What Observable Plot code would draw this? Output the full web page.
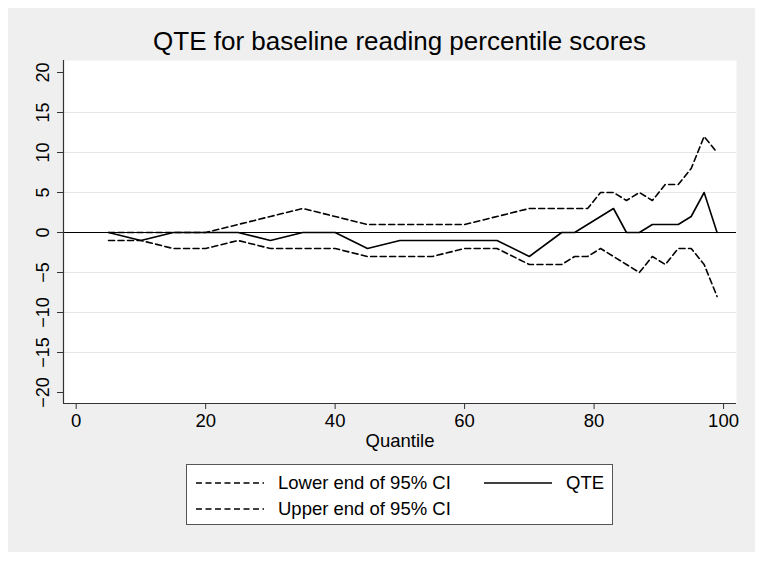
<!DOCTYPE html>
<html>
<head>
<meta charset="utf-8">
<script src="https://cdn.jsdelivr.net/npm/d3@7"></script>
<script src="https://cdn.jsdelivr.net/npm/@observablehq/plot@0.6"></script>
<style>
  html, body { margin: 0; padding: 0; background: #ffffff; }
  body { width: 764px; height: 561px; position: relative; overflow: hidden;
         font-family: "Liberation Sans", Arial, Helvetica, sans-serif; color: #000; }
  #frame { position: absolute; left: 8px; top: 8px; width: 747px; height: 544px; background: #efefef; }
  #title { position: absolute; left: 55px; width: 673px; top: 20px; text-align: center;
           font-size: 26px; line-height: 26px; white-space: nowrap; }
  #chart { position: absolute; left: 0; top: 50px; }
  #legend { position: absolute; left: 178px; top: 456px; width: 425px; height: 59px;
            background: #fff; border: 1px solid #555; }
  .lg-item { position: absolute; font-size: 18.5px; line-height: 20px; white-space: nowrap; }
  .lg-key { position: absolute; }
</style>
</head>
<body>
<div id="frame">
  <div id="title"></div>
  <div id="chart"></div>
  <div id="legend"></div>
</div>
<script>
// ---- data ----
const titleText = "QTE for baseline reading percentile scores";
const xLabel = "Quantile";
const quantiles = [5,10,15,20,25,30,35,40,45,50,55,60,65,70,75,77,79,81,83,85,87,89,91,93,95,97,99];
const qte       = [0,-1,0,0,0,-1,0,0,-2,-1,-1,-1,-1,-3,0,0,1,2,3,0,0,1,1,1,2,5,0];
const lowerCI   = [-1,-1,-2,-2,-1,-2,-2,-2,-3,-3,-3,-2,-2,-4,-4,-3,-3,-2,-3,-4,-5,-3,-4,-2,-2,-4,-8];
const upperCI   = [0,0,0,0,1,2,3,2,1,1,1,1,2,3,3,3,3,5,5,4,5,4,6,6,8,12,10];
const yTicks = [-20,-15,-10,-5,0,5,10,15,20];
const xTicks = [0,20,40,60,80,100];
const gridValues = [-15,-10,-5,5,10,15];
const legendLabels = ["Lower end of 95% CI", "QTE", "Upper end of 95% CI"];

const xDomain = [-1.96, 102.0];
const yDomain = [-21.375, 21.5];

const rows = quantiles.map((q, i) => ({q, qte: qte[i], lo: lowerCI[i], hi: upperCI[i]}));

document.getElementById("title").textContent = titleText;

const dash = "6,3.5";
const font = "Liberation Sans, Arial, Helvetica, sans-serif";

const chart = Plot.plot({
  width: 747,
  height: 394,
  marginLeft: 55,
  marginRight: 19,
  marginTop: 2,
  marginBottom: 49,
  style: {background: "transparent", fontFamily: font, fontSize: "18px", color: "#000"},
  x: {domain: xDomain},
  y: {domain: yDomain},
  marks: [
    Plot.frame({fill: "white", stroke: "none"}),
    Plot.gridY(gridValues, {stroke: "#e6e6e6", strokeOpacity: 1, strokeWidth: 1}),
    Plot.ruleY([0], {stroke: "#000", strokeWidth: 1.2}),
    Plot.line(rows, {x: "q", y: "lo", stroke: "#000", strokeWidth: 1.6, strokeDasharray: dash}),
    Plot.line(rows, {x: "q", y: "hi", stroke: "#000", strokeWidth: 1.6, strokeDasharray: dash}),
    Plot.line(rows, {x: "q", y: "qte", stroke: "#000", strokeWidth: 1.6}),
    Plot.ruleX([xDomain[0]], {stroke: "#333", strokeWidth: 1.2}),
    Plot.ruleY([yDomain[0]], {stroke: "#333", strokeWidth: 1.2}),
    Plot.axisY(yTicks, {tickSize: 6, tickPadding: 9, tickRotate: -90, textAnchor: "middle",
      lineAnchor: "bottom", label: null, fontSize: 18, stroke: "#333", fill: "#000"}),
    Plot.axisX(xTicks, {tickSize: 6, tickPadding: 4, label: xLabel, labelAnchor: "center",
      labelOffset: 43, labelArrow: "none", fontSize: 18.5, stroke: "#333", fill: "#000"})
  ]
});
document.getElementById("chart").appendChild(chart);

// ---- legend ----
const legend = document.getElementById("legend");
const items = [
  {label: legendLabels[0], dashed: true,  kx: 9,   tx: 91,  cy: 17.5},
  {label: legendLabels[1], dashed: false, kx: 297, tx: 379, cy: 17.5},
  {label: legendLabels[2], dashed: true,  kx: 9,   tx: 91,  cy: 43.5}
];
for (const it of items) {
  const svgNS = "http://www.w3.org/2000/svg";
  const svg = document.createElementNS(svgNS, "svg");
  svg.setAttribute("width", 70); svg.setAttribute("height", 6);
  svg.setAttribute("class", "lg-key");
  svg.style.left = it.kx + "px"; svg.style.top = (it.cy - 3) + "px";
  const ln = document.createElementNS(svgNS, "line");
  ln.setAttribute("x1", 0); ln.setAttribute("x2", 68);
  ln.setAttribute("y1", 3); ln.setAttribute("y2", 3);
  ln.setAttribute("stroke", "#000"); ln.setAttribute("stroke-width", 1.6);
  if (it.dashed) ln.setAttribute("stroke-dasharray", dash);
  svg.appendChild(ln);
  legend.appendChild(svg);
  const t = document.createElement("div");
  t.className = "lg-item";
  t.textContent = it.label;
  t.style.left = it.tx + "px"; t.style.top = (it.cy - 10) + "px";
  legend.appendChild(t);
}
</script>
</body>
</html>
